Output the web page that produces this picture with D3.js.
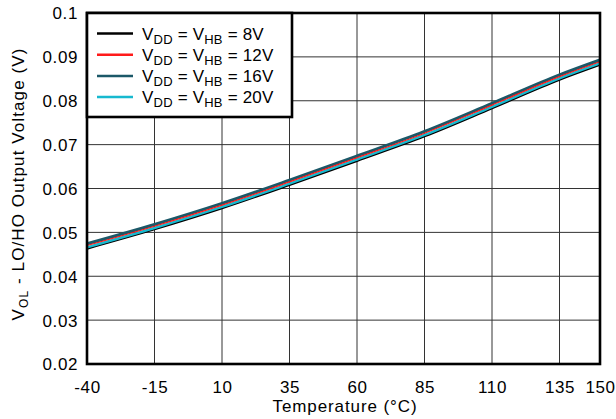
<!DOCTYPE html>
<html>
<head>
<meta charset="utf-8">
<script src="https://cdn.jsdelivr.net/npm/d3@7"></script>
<style>
  html, body { margin: 0; padding: 0; background: #fff; }
  svg { display: block; font-family: "Liberation Sans", Arial, sans-serif; }
  svg text { font-family: "Liberation Sans", Arial, sans-serif; }
</style>
</head>
<body>
<svg id="chart" width="616" height="419"></svg>
<script>
// Data
const temperatures = [-40, -15, 10, 35, 60, 85, 110, 135, 150];
const v8  = [0.0463, 0.0507, 0.0555, 0.0608, 0.0663, 0.0719, 0.0783, 0.0848, 0.0882];
const v12 = [0.0470, 0.0514, 0.0562, 0.0615, 0.0670, 0.0726, 0.0790, 0.0855, 0.0889];
const v16 = [0.0474, 0.0518, 0.0566, 0.0619, 0.0674, 0.0730, 0.0794, 0.0859, 0.0893];
const v20 = [0.0466, 0.0510, 0.0558, 0.0611, 0.0666, 0.0722, 0.0786, 0.0851, 0.0885];
const seriesLabels = ["8V", "12V", "16V", "20V"];
const xTicks = [-40, -15, 10, 35, 60, 85, 110, 135, 150];
const yTicks = [0.02, 0.03, 0.04, 0.05, 0.06, 0.07, 0.08, 0.09, 0.1];

const colors = { "8V": "#000000", "12V": "#ff1a1a", "16V": "#1b5868", "20V": "#17b9cf" };
const widths = { "8V": 2.2, "12V": 1.2, "16V": 3, "20V": 2.4 };

const svg = d3.select("#chart");
const L = 87, R = 600, T = 13, B = 364;
const x = d3.scaleLinear().domain([-40, 150]).range([L, R]);
const y = d3.scaleLinear().domain([0.02, 0.1]).range([B, T]);
const FONT = "Liberation Sans, Arial, sans-serif";

// Grid
const grid = svg.append("g");
xTicks.filter(t => t !== -40 && t !== 150).forEach(t => {
  grid.append("line").attr("x1", x(t)).attr("x2", x(t)).attr("y1", T).attr("y2", B)
    .attr("stroke", "#333").attr("stroke-width", 1);
});
yTicks.filter(t => t !== 0.02 && t !== 0.1).forEach(t => {
  grid.append("line").attr("x1", L).attr("x2", R).attr("y1", y(t)).attr("y2", y(t))
    .attr("stroke", "#333").attr("stroke-width", 1);
});

// Lines
const line = d3.line().x(d => x(d[0])).y(d => y(d[1])).curve(d3.curveMonotoneX);
const drawOrder = [["8V", v8], ["20V", v20], ["16V", v16], ["12V", v12]];
const plot = svg.append("g");
drawOrder.forEach(([k, vals]) => {
  plot.append("path")
    .datum(temperatures.map((t, i) => [t, vals[i]]))
    .attr("d", line)
    .attr("fill", "none")
    .attr("stroke", colors[k])
    .attr("stroke-width", widths[k]);
});

// Frame
svg.append("rect").attr("x", L).attr("y", T).attr("width", R - L).attr("height", B - T)
  .attr("fill", "none").attr("stroke", "#000").attr("stroke-width", 2.6);

// Axes labels
const xAxis = d3.axisBottom(x).tickValues(xTicks).tickFormat(d => String(d)).tickSize(0).tickPadding(0);
const gx = svg.append("g").attr("transform", `translate(0,${B + 17})`).call(xAxis);
gx.attr("font-family", FONT);
gx.select(".domain").remove();
gx.selectAll("text").attr("font-size", 17).attr("fill", "#000").attr("letter-spacing", 0.6)
  .attr("dy", "0.71em").attr("y", 0);

const yAxis = d3.axisLeft(y).tickValues(yTicks).tickFormat(d => String(+d.toFixed(2))).tickSize(0).tickPadding(0);
const gy = svg.append("g").attr("transform", `translate(${L - 9},0)`).call(yAxis);
gy.attr("font-family", FONT);
gy.select(".domain").remove();
gy.selectAll("text").attr("font-size", 17).attr("fill", "#000").attr("letter-spacing", 0.6)
  .attr("x", 0).attr("dy", "0.35em");

// Axis titles
svg.append("text").attr("x", 345).attr("y", 412).attr("text-anchor", "middle")
  .attr("font-size", 17).attr("letter-spacing", 0.9).text("Temperature (°C)");

const yt = svg.append("text").attr("transform", "translate(24,184) rotate(-90)")
  .attr("text-anchor", "middle").attr("font-size", 17).attr("letter-spacing", 1.1);
yt.append("tspan").text("V");
yt.append("tspan").attr("font-size", 12).attr("dy", 4).text("OL");
yt.append("tspan").attr("dy", -4).text(" - LO/HO Output Voltage (V)");

// Legend
const lg = svg.append("g");
lg.append("rect").attr("x", L).attr("y", T).attr("width", 205).attr("height", 104)
  .attr("fill", "#fff").attr("stroke", "#000").attr("stroke-width", 2.6);
seriesLabels.forEach((k, i) => {
  const yy = 33.5 + i * 21.2;
  lg.append("line").attr("x1", 97).attr("x2", 133).attr("y1", yy).attr("y2", yy)
    .attr("stroke", colors[k]).attr("stroke-width", 2.5);
  const t = lg.append("text").attr("x", 142).attr("y", yy + 6).attr("font-size", 17)
    .attr("letter-spacing", 0.2);
  t.append("tspan").text("V");
  t.append("tspan").attr("font-size", 13).attr("dy", 4).text("DD");
  t.append("tspan").attr("dy", -4).text(" = V");
  t.append("tspan").attr("font-size", 13).attr("dy", 4).text("HB");
  t.append("tspan").attr("dy", -4).text(" = " + k);
});
</script>
</body>
</html>
